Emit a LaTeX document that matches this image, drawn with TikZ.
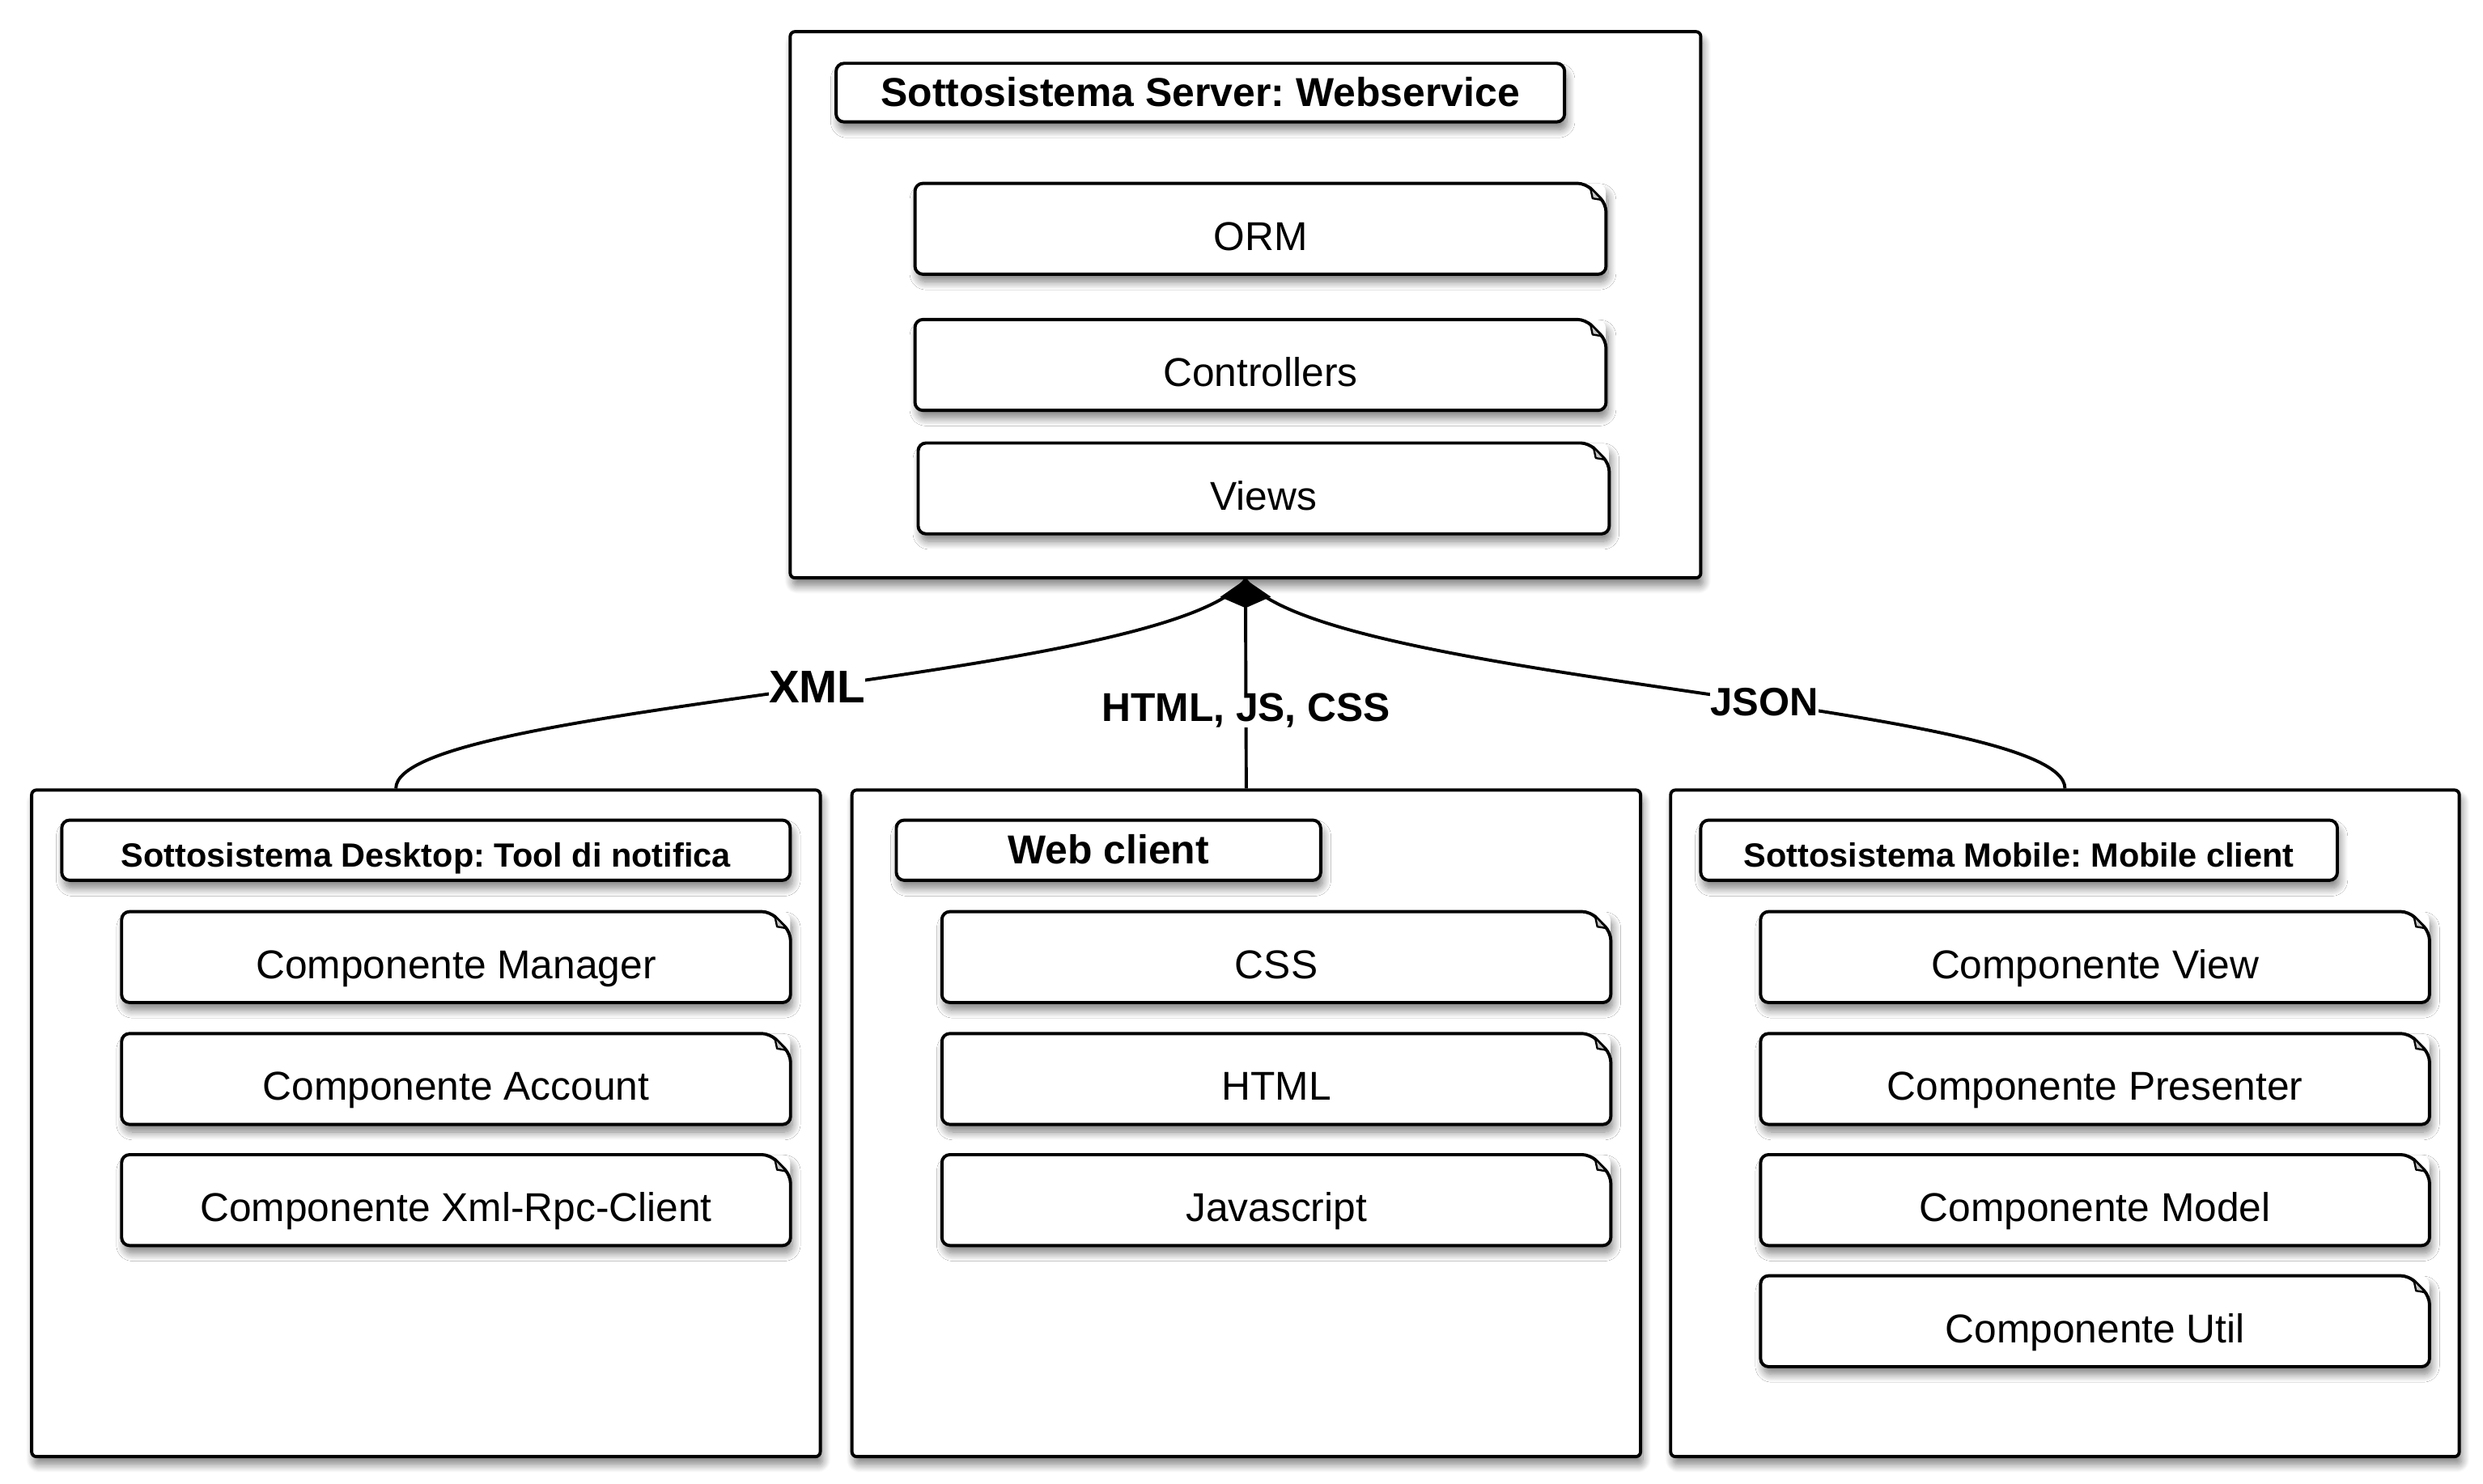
\documentclass[tikz,border=0pt]{standalone}
\usepackage{fontspec}
\setmainfont{Liberation Sans}
\usepackage{tikz}
\usetikzlibrary{arrows.meta,shadows.blur}

\frenchspacing
\newcommand{\compfont}{\fontsize{25.4}{30}\selectfont}
\newcommand{\titlefont}{\fontsize{25.5}{30}\selectfont\bfseries}
\newcommand{\smalltitlefont}{\fontsize{21.2}{25}\selectfont\bfseries}

\tikzset{
  boxshadow/.style={blur shadow={shadow xshift=1.5pt, shadow yshift=-5pt, shadow blur radius=5pt, shadow blur steps=12, shadow opacity=50}},
  subsys/.style={draw, line width=2pt, fill=white, rounded corners=3pt, inner sep=0pt, boxshadow},
  titlebox/.style={draw, line width=2pt, fill=white, rounded corners=5pt, inner sep=0pt, minimum height=38pt, text height=17.6pt, text depth=0pt, boxshadow},
  comp/.style={fill=white, rounded corners=5pt, inner sep=0pt, minimum height=57pt, text height=27pt, text depth=0pt, font=\compfont, boxshadow},
  compline/.style={line width=2pt, rounded corners=5pt},
  fold/.style={fill=gray!45, draw=black, line width=1.2pt, line join=round},
  conn/.style={line width=2pt},
  lbl/.style={fill=white, inner sep=0pt, font=\bfseries\fontsize{25.4}{30}\selectfont}
}

% component box with folded corner
\newcommand{\compnode}[4][422pt]{%
  \node[comp, minimum width=#1] (#2) at #3 {#4};
  \draw[compline] (#2.west) -- (#2.north west) -- ([xshift=-13pt]#2.north east) -- ([yshift=-13pt]#2.north east) -- (#2.south east) -- (#2.south west) -- cycle;
  \filldraw[fold] ([shift={(-10,2.5)}]#2.north east) -- ([shift={(-8.5,9.5)}]#2.north east) -- ([shift={(-2.5,10.5)}]#2.north east) -- cycle;
}

\begin{document}
\begin{tikzpicture}[x=1pt, y=-1pt]
	\useasboundingbox (0,0) rectangle (1568,937.3);
	
	% server
	\node[subsys, minimum width=575pt, minimum height=345pt] (server) at (786.5,192.5) {};
	\node[titlebox, minimum width=460pt, minimum height=37pt, font=\titlefont] (servertitle) at (758,58.5) {Sottosistema Server: Webservice};
	\compnode[436pt]{orm}{(796,144.5)}{ORM}
	\compnode[436pt]{controllers}{(796,230.5)}{Controllers}
	\compnode[436pt]{views}{(798,308.5)}{Views}
	
	% desktop
	\node[subsys, minimum width=498pt, minimum height=421pt] (desktop) at (269,709.5) {};
	\node[titlebox, minimum width=460pt, text height=21.2pt, font=\smalltitlefont] (desktoptitle) at (269,537) {Sottosistema Desktop: Tool di notifica};
	\compnode{manager}{(288,604.5)}{Componente Manager}
	\compnode{account}{(288,681.5)}{Componente Account}
	\compnode{xmlrpc}{(288,758)}{Componente Xml-Rpc-Client}
	
	% web client
	\node[subsys, minimum width=498pt, minimum height=421pt] (web) at (787,709.5) {};
	\node[titlebox, minimum width=268pt, font=\titlefont] (webtitle) at (700,537) {Web client};
	\compnode{css}{(806,604.5)}{CSS}
	\compnode{html}{(806,681.5)}{HTML}
	\compnode{js}{(806,758)}{Javascript}
	
	% mobile
	\node[subsys, minimum width=498pt, minimum height=421pt] (mobile) at (1304,709.5) {};
	\node[titlebox, minimum width=402pt, text height=21.2pt, font=\smalltitlefont] (mobiletitle) at (1275,537) {Sottosistema Mobile: Mobile client};
	\compnode{view}{(1323,604.5)}{Componente View}
	\compnode{presenter}{(1323,681.5)}{Componente Presenter}
	\compnode{model}{(1323,758)}{Componente Model}
	\compnode{util}{(1323,834.5)}{Componente Util}
	
	% connectors
	\draw[conn] ([xshift=-19pt]desktop.north) .. controls +(0,-54) and ([shift={(-47,65)}]server.south) .. (server.south)
		node[lbl, pos=0.52, font=\bfseries\fontsize{28.9}{34}\selectfont] {XML};
	\draw[conn] (mobile.north) .. controls +(0,-54) and ([shift={(47,65)}]server.south) .. (server.south)
		node[lbl, pos=0.43, font=\bfseries\fontsize{25}{30}\selectfont] {JSON};
	\draw[conn, -{Kite[length=18pt, width=32pt, inset=7pt]}] (web.north) -- (server.south)
		node[lbl, pos=0.373] {HTML, JS, CSS};
\end{tikzpicture}
\end{document}
